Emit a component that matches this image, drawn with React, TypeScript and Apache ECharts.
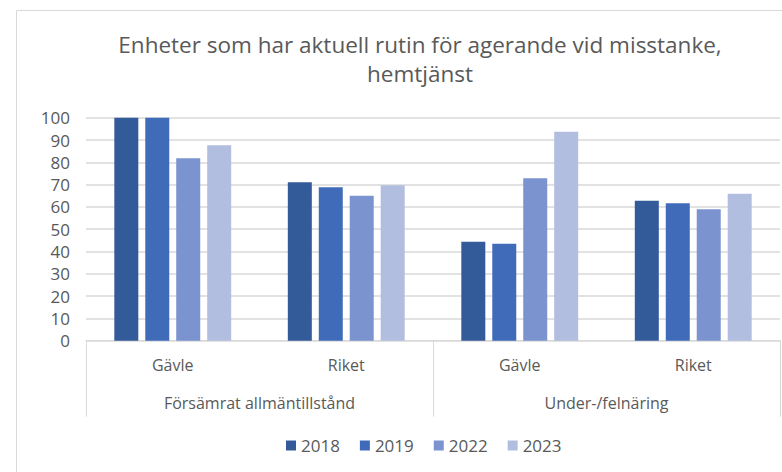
import React, { useEffect, useRef } from "react";
import * as echarts from "echarts";

const titleText = "Enheter som har aktuell rutin för agerande vid misstanke,\nhemtjänst";
const subCategories = ["Gävle", "Riket", "Gävle", "Riket"];
const groupCategories = ["Försämrat allmäntillstånd", "Under-/felnäring"];
const yearNames = ["2018", "2019", "2022", "2023"];
const values2018 = [100, 71, 44.4, 62.8];
const values2019 = [100, 68.8, 43.5, 61.6];
const values2022 = [81.8, 65, 72.8, 58.9];
const values2023 = [87.7, 69.7, 93.7, 65.9];
const yearColors = ["#335A99", "#3F6BB8", "#7B93CF", "#B2BEDF"];

export default function App() {
  const ref = useRef<HTMLDivElement>(null);
  useEffect(() => {
    if (!ref.current) return;
    const chart = echarts.init(ref.current, undefined, { renderer: "svg" });
    const seriesValues = [values2018, values2019, values2022, values2023];
    const font = "'Open Sans', 'Noto Sans', sans-serif";
    chart.setOption({
      animation: false,
      textStyle: { fontFamily: font },
      title: {
        text: titleText,
        left: 415,
        textAlign: "center",
        top: 25,
        textStyle: {
          fontFamily: font,
          fontSize: 22.5,
          fontWeight: "normal",
          color: "#595959",
          lineHeight: 29,
        },
      },
      graphic: [
        {
          type: "rect",
          shape: { x: 16.5, y: 10.5, width: 820, height: 500 },
          style: { fill: "none", stroke: "#D9D9D9", lineWidth: 1 },
          silent: true,
          z: -1,
        },
      ],
      legend: {
        data: yearNames,
        top: 432,
        left: 281,
        itemWidth: 10,
        itemHeight: 10,
        itemGap: 20,
        icon: "rect",
        textStyle: { fontFamily: font, fontSize: 17, color: "#595959" },
      },
      grid: { left: 86, right: 2, top: 117.7, bottom: 131.3, containLabel: false },
      xAxis: [
        {
          type: "category",
          data: subCategories,
          position: "bottom",
          axisLine: { show: true, lineStyle: { color: "#D9D9D9", width: 1 } },
          axisTick: { show: false },
          axisLabel: { margin: 16, fontSize: 16, color: "#595959", fontFamily: font },
        },
        {
          type: "category",
          data: groupCategories,
          position: "bottom",
          axisLine: { show: true, lineStyle: { color: "#D9D9D9", width: 1 } },
          axisTick: { show: true, length: 76, lineStyle: { color: "#D9D9D9", width: 1 } },
          axisLabel: { margin: 54, fontSize: 16, color: "#595959", fontFamily: font },
        },
      ],
      yAxis: {
        type: "value",
        min: 0,
        max: 100,
        interval: 10,
        axisLine: { show: false },
        axisTick: { show: false },
        axisLabel: { margin: 16, fontSize: 17, color: "#595959", fontFamily: font },
        splitLine: { lineStyle: { color: "#D9D9D9", width: 1.5 } },
      },
      series: yearNames.map((name, i) => ({
        name,
        type: "bar",
        xAxisIndex: 0,
        data: seriesValues[i],
        barWidth: 24,
        barGap: "29%",
        itemStyle: { color: yearColors[i] },
      })),
    });
    return () => chart.dispose();
  }, []);
  return (
    <div
      ref={ref}
      style={{ position: "fixed", left: 0, top: 0, width: 782, height: 472, background: "#fff" }}
    />
  );
}
